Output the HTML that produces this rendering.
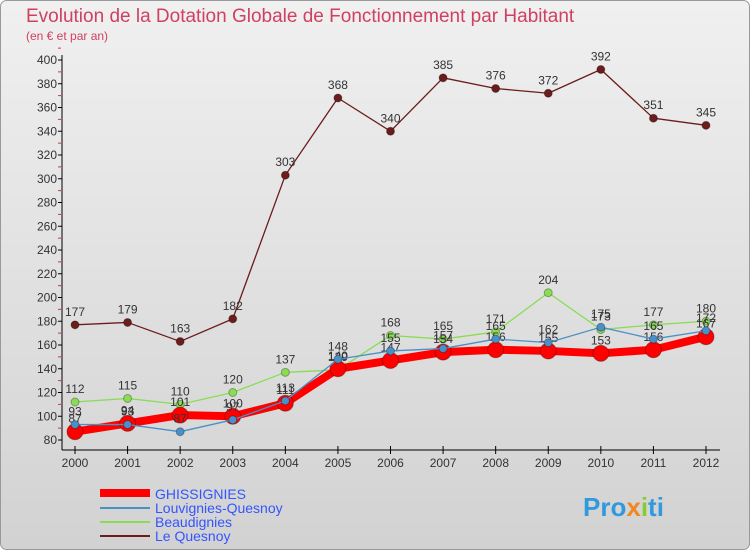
<!DOCTYPE html>
<html><head><meta charset="utf-8"><style>
body{margin:0;width:750px;height:550px;overflow:hidden;font-family:"Liberation Sans",sans-serif}
</style></head><body>
<svg width="750" height="550" xmlns="http://www.w3.org/2000/svg">
<defs><linearGradient id="bg" x1="0" y1="0" x2="0" y2="1"><stop offset="0" stop-color="#f0f0f0"/><stop offset="1" stop-color="#d2d2d2"/></linearGradient></defs>
<rect x="0.5" y="0.5" width="749" height="549" rx="6" fill="url(#bg)" stroke="#999"/>
<text x="26" y="22" font-size="19" fill="#d04060">Evolution de la Dotation Globale de Fonctionnement par Habitant</text>
<text x="26" y="40" font-size="12" fill="#d04060">(en € et par an)</text>
<g id="axes"></g>
<g id="series"></g>
<g id="legend" font-size="14">
<line x1="100" y1="493" x2="150" y2="493" stroke="#ff0000" stroke-width="8"/>
<text x="155" y="499" fill="#3355ff">GHISSIGNIES</text>
<line x1="100" y1="508" x2="150" y2="508" stroke="#4a90c8" stroke-width="2"/>
<text x="155" y="513" fill="#3355ff">Louvignies-Quesnoy</text>
<line x1="100" y1="522" x2="150" y2="522" stroke="#88dd55" stroke-width="2"/>
<text x="155" y="527" fill="#3355ff">Beaudignies</text>
<line x1="100" y1="536" x2="150" y2="536" stroke="#6b1c1c" stroke-width="2"/>
<text x="155" y="541" fill="#3355ff">Le Quesnoy</text>
</g>
<text x="583" y="516" font-size="26" font-weight="bold" fill="#3399dd">Pro<tspan fill="#ee8822">x</tspan><tspan fill="#88cc33">i</tspan>ti</text>
</svg>
<script>
const years=[2000,2001,2002,2003,2004,2005,2006,2007,2008,2009,2010,2011,2012];
const ghissignies=[87,94,101,100,111,140,147,154,156,155,153,156,167];
const louvignies=[93,93,87,97,113,148,155,157,165,162,175,165,172];
const beaudignies=[112,115,110,120,137,139,168,165,171,204,173,177,180];
const leQuesnoy=[177,179,163,182,303,368,340,385,376,372,392,351,345];
const yTicks=[80,100,120,140,160,180,200,220,240,260,280,300,320,340,360,380,400];
const NS="http://www.w3.org/2000/svg";
const xs=i=>75+i*(706-75)/(years.length-1);
const ys=v=>440-(v-80)*(380/320);
function mk(t,a,p){const e=document.createElementNS(NS,t);for(const k in a)e.setAttribute(k,a[k]);p.appendChild(e);return e;}
const ax=document.getElementById('axes');
let yl=mk('line',{x1:62,y1:55,x2:62,y2:450,stroke:'#000'},ax);


let xl=mk('line',{x1:62,y1:450,x2:720,y2:450,stroke:'#000'},ax);


yTicks.forEach(v=>{
  mk('line',{x1:58,y1:ys(v),x2:62,y2:ys(v),stroke:'#000'},ax);
  mk('line',{x1:58,y1:ys(v+10),x2:61,y2:ys(v+10),stroke:'#e03030'},ax);
  const t=mk('text',{x:57,y:ys(v)+4,'font-size':12,'text-anchor':'end',fill:'#333'},ax);
  t.textContent=v;
  
  
});
years.forEach((y,i)=>{
  mk('line',{x1:xs(i),y1:446,x2:xs(i),y2:454,stroke:'#000'},ax);
  const t=mk('text',{x:xs(i),y:467,'font-size':12,'text-anchor':'middle',fill:'#333'},ax);
  t.textContent=y;
  
  
});
const sg=document.getElementById('series');
function draw(data,color,w,r,name,labels){
  const g=mk('g',{},sg);
  
  
  const p=mk('polyline',{points:data.map((v,i)=>xs(i)+','+ys(v)).join(' '),fill:'none',stroke:color,'stroke-width':w,'stroke-linejoin':'round'},g);
  
  
  data.forEach((v,i)=>{
    const c=mk('circle',{cx:xs(i),cy:ys(v),r:r,fill:color,stroke:'rgba(0,0,0,0.3)'},g);
    
    
    if(labels){const t=mk('text',{x:xs(i),y:ys(v)-9,'font-size':12,'text-anchor':'middle',fill:'#333'},g);
    t.textContent=v;
    
    }
  });
}
draw(leQuesnoy,'#6b1c1c',1.3,4,'le-quesnoy',true);
draw(beaudignies,'#88dd55',1.3,4,'beaudignies',true);
draw(ghissignies,'#ff0000',8,8,'ghissignies',true);
draw(louvignies,'#4a90c8',1.3,4,'louvignies',true);
</script>
</body></html>
